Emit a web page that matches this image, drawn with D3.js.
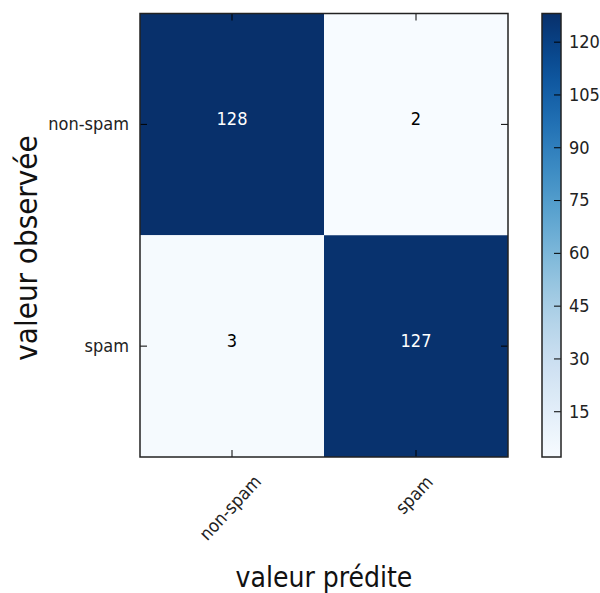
<!DOCTYPE html>
<html>
<head>
<meta charset="utf-8">
<script src="https://cdn.jsdelivr.net/npm/d3@7"></script>
<style>
  body { margin: 0; background: #fff; }
  text { font-family: "DejaVu Sans Condensed", "DejaVu Sans", sans-serif; font-stretch: condensed; }
</style>
</head>
<body>
<svg width="600" height="593"></svg>
<script>
"use strict";

// confusion matrix data
const classes = ["non-spam", "spam"];
const matrix = [
  [128, 2],
  [3, 127]
];
const cbarTicks = [15, 30, 45, 60, 75, 90, 105, 120];
const xTitle = "valeur prédite";
const yTitle = "valeur observée";

const svg = d3.select("svg");
const axLeft = 140, axTop = 13.5, axRight = 508, axBottom = 457;
const cbLeft = 542, cbRight = 561;
const tickLen = 7;

const cells = [];
matrix.forEach((row, i) => row.forEach((v, j) => cells.push({ obs: classes[i], pred: classes[j], v })));
const vmin = d3.min(cells, d => d.v), vmax = d3.max(cells, d => d.v);

const x = d3.scaleBand().domain(classes).range([axLeft, axRight]);
const y = d3.scaleBand().domain(classes).range([axTop, axBottom]);
const color = d3.scaleSequential(d3.interpolateBlues).domain([vmin, vmax]);

// heatmap cells
svg.append("g").selectAll("rect")
  .data(cells)
  .join("rect")
  .attr("x", d => x(d.pred))
  .attr("y", d => y(d.obs))
  .attr("width", x.bandwidth())
  .attr("height", y.bandwidth())
  .attr("fill", d => color(d.v));

// cell values (matplotlib centres the full text box, so digits sit a bit high)
svg.append("g").selectAll("text")
  .data(cells)
  .join("text")
  .attr("x", d => x(d.pred) + x.bandwidth() / 2)
  .attr("y", d => y(d.obs) + y.bandwidth() / 2 - 6)
  .attr("text-anchor", "middle")
  .attr("dominant-baseline", "central")
  .attr("font-size", 18)
  .attr("fill", d => d.v > vmax / 2 ? "#fff" : "#000")
  .text(d => d.v);

// axes with inward ticks (matplotlib classic look)
function styleAxis(g) {
  g.select(".domain").remove();
  g.selectAll(".tick line").attr("stroke", "#000").attr("stroke-width", 1);
  g.selectAll(".tick text").attr("font-size", 18).attr("fill", "#222");
}

svg.append("g")
  .attr("transform", `translate(${axLeft},0)`)
  .call(d3.axisLeft(y).tickSize(-tickLen).tickPadding(11))
  .call(styleAxis);

svg.append("g")
  .attr("transform", `translate(${axRight},0)`)
  .call(d3.axisRight(y).tickSize(-tickLen).tickFormat(""))
  .call(styleAxis);

svg.append("g")
  .attr("transform", `translate(0,${axTop})`)
  .call(d3.axisTop(x).tickSize(-tickLen).tickFormat(""))
  .call(styleAxis);

const xAxis = svg.append("g")
  .attr("transform", `translate(0,${axBottom})`)
  .call(d3.axisBottom(x).tickSize(-tickLen))
  .call(styleAxis);

xAxis.selectAll(".tick text")
  .attr("text-anchor", "middle")
  .attr("dominant-baseline", "central")
  .attr("y", 0)
  .attr("dy", null)
  .attr("transform", function () {
    const L = this.getComputedTextLength();
    const cy = 17 + (L + 14) * Math.SQRT1_2 / 2;
    return `translate(-2,${cy}) rotate(-47)`;
  });

// frame
svg.append("rect")
  .attr("x", axLeft).attr("y", axTop)
  .attr("width", axRight - axLeft).attr("height", axBottom - axTop)
  .attr("fill", "none").attr("stroke", "#222").attr("stroke-width", 1.5);

// titles
svg.append("text")
  .attr("x", (axLeft + axRight) / 2)
  .attr("y", 587)
  .attr("text-anchor", "middle")
  .attr("font-size", 28)
  .attr("fill", "#111")
  .text(xTitle);

svg.append("text")
  .attr("transform", "translate(37,248) rotate(-90)")
  .attr("text-anchor", "middle")
  .attr("font-size", 31)
  .attr("fill", "#111")
  .text(yTitle);

// colorbar
const cb = d3.scaleLinear().domain([vmin, vmax]).range([axBottom, axTop]);
const grad = svg.append("defs").append("linearGradient")
  .attr("id", "cbgrad")
  .attr("x1", 0).attr("y1", 1).attr("x2", 0).attr("y2", 0);
grad.selectAll("stop")
  .data(d3.range(0, 1.0001, 0.05))
  .join("stop")
  .attr("offset", d => d)
  .attr("stop-color", d => d3.interpolateBlues(d));

svg.append("rect")
  .attr("x", cbLeft).attr("y", axTop)
  .attr("width", cbRight - cbLeft).attr("height", axBottom - axTop)
  .attr("fill", "url(#cbgrad)");

svg.append("g")
  .attr("transform", `translate(${cbRight},0)`)
  .call(d3.axisRight(cb).tickValues(cbarTicks).tickSize(-tickLen).tickPadding(8))
  .call(styleAxis);

svg.append("rect")
  .attr("x", cbLeft).attr("y", axTop)
  .attr("width", cbRight - cbLeft).attr("height", axBottom - axTop)
  .attr("fill", "none").attr("stroke", "#222").attr("stroke-width", 1.5);
</script>
</body>
</html>
